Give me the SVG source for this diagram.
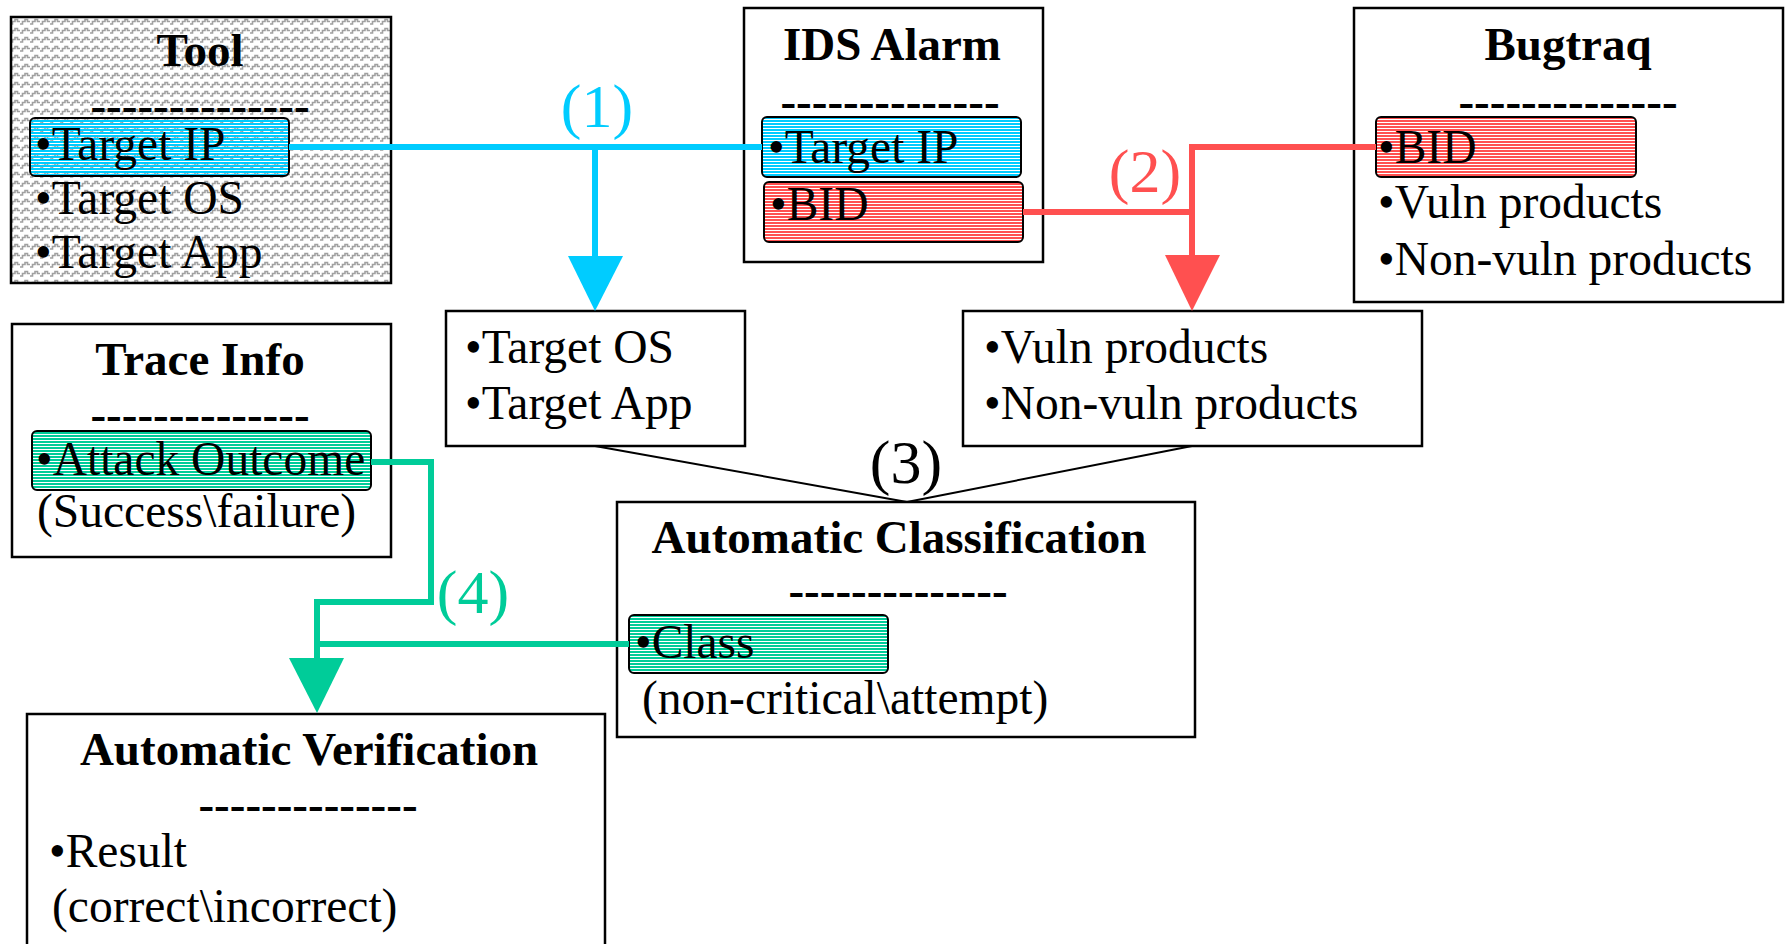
<svg xmlns="http://www.w3.org/2000/svg" width="1785" height="944" viewBox="0 0 1785 944">
<defs>
<pattern id="zig" patternUnits="userSpaceOnUse" width="10" height="9">
<rect width="10" height="9" fill="#ffffff"/>
<polyline points="0,6 2.5,6 2.5,3.5 5,3.5 5,1.5 7.5,1.5 7.5,3.5 10,3.5" fill="none" stroke="#a0a0a0" stroke-width="1.6"/>
</pattern>
<pattern id="stCyan" patternUnits="userSpaceOnUse" width="4" height="3">
<rect width="4" height="2" fill="#00CCFF"/>
</pattern>
<pattern id="stRed" patternUnits="userSpaceOnUse" width="4" height="3">
<rect width="4" height="2" fill="#FF5050"/>
</pattern>
<pattern id="stGreen" patternUnits="userSpaceOnUse" width="4" height="3">
<rect width="4" height="2" fill="#00CC99"/>
</pattern>
</defs>
<style>
.box{fill:#ffffff;stroke:#000;stroke-width:2.5}
.hl{stroke:#000;stroke-width:2}
.t{font-family:"Liberation Serif","Times New Roman",serif;font-size:47.5px;fill:#000}
.b{font-family:"Liberation Serif","Times New Roman",serif;font-size:47px;font-weight:bold;fill:#000;text-anchor:middle}
.lab{font-family:"Liberation Serif","Times New Roman",serif;font-size:62px;text-anchor:middle}
.cy{stroke:#00CCFF;stroke-width:6;fill:none}
.rd{stroke:#FF5050;stroke-width:6;fill:none}
.gr{stroke:#00CC99;stroke-width:6;fill:none}
.bk{stroke:#000;stroke-width:2;fill:none}
</style>
<rect width="1785" height="944" fill="#ffffff"/>

<g id="tool">
<rect x="11" y="17" width="380" height="266" fill="url(#zig)" stroke="#000" stroke-width="2.5"/>
<text class="b" x="200" y="66">Tool</text>
<text class="b" x="200" y="121">--------------</text>
<rect class="hl" x="30" y="118" width="259" height="58" rx="5" fill="url(#stCyan)"/>
<text class="t" x="35" y="160">•Target IP</text>
<text class="t" x="35" y="214">•Target OS</text>
<text class="t" x="35" y="268">•Target App</text>
</g>

<g id="ids-alarm">
<rect class="box" x="744" y="8" width="299" height="254"/>
<text class="b" x="892" y="60">IDS Alarm</text>
<text class="b" x="890" y="117">--------------</text>
<rect class="hl" x="762" y="117" width="259" height="60" rx="5" fill="url(#stCyan)"/>
<text class="t" x="768" y="163">•Target IP</text>
<rect class="hl" x="764" y="182" width="259" height="60" rx="5" fill="url(#stRed)"/>
<text class="t" x="770" y="220">•BID</text>
</g>

<g id="bugtraq">
<rect class="box" x="1354" y="8" width="429" height="294"/>
<text class="b" x="1568" y="60">Bugtraq</text>
<text class="b" x="1568" y="117">--------------</text>
<rect class="hl" x="1376" y="117" width="260" height="60" rx="5" fill="url(#stRed)"/>
<text class="t" x="1378" y="163">•BID</text>
<text class="t" x="1378" y="218">•Vuln products</text>
<text class="t" x="1378" y="275">•Non-vuln products</text>
</g>

<g id="target-info">
<rect class="box" x="446" y="311" width="299" height="135"/>
<text class="t" x="465" y="363">•Target OS</text>
<text class="t" x="465" y="419">•Target App</text>
</g>

<g id="vuln-info">
<rect class="box" x="963" y="311" width="459" height="135"/>
<text class="t" x="984" y="363">•Vuln products</text>
<text class="t" x="984" y="419">•Non-vuln products</text>
</g>

<g id="trace-info">
<rect class="box" x="12" y="324" width="379" height="233"/>
<text class="b" x="200" y="375">Trace Info</text>
<text class="b" x="200" y="430">--------------</text>
<rect class="hl" x="32" y="431" width="339" height="59" rx="5" fill="url(#stGreen)"/>
<text class="t" x="36" y="475">•Attack Outcome</text>
<text class="t" x="37" y="527">(Success\failure)</text>
</g>

<g id="auto-classification">
<rect class="box" x="617" y="502" width="578" height="235"/>
<text class="b" x="899" y="553">Automatic Classification</text>
<text class="b" x="898" y="606">--------------</text>
<rect class="hl" x="629" y="615" width="259" height="58" rx="5" fill="url(#stGreen)"/>
<text class="t" x="635" y="658">•Class</text>
<text class="t" x="642" y="714">(non-critical\attempt)</text>
</g>

<g id="auto-verification">
<rect class="box" x="27" y="714" width="578" height="240"/>
<text class="b" x="309" y="765">Automatic Verification</text>
<text class="b" x="308" y="820">--------------</text>
<text class="t" x="49" y="867">•Result</text>
<text class="t" x="52" y="922">(correct\incorrect)</text>
</g>

<g id="connectors">
<line class="cy" x1="289" y1="147" x2="762" y2="147"/>
<line class="cy" x1="595" y1="147" x2="595" y2="260"/>
<polygon points="568,256 623,256 595,311" fill="#00CCFF"/>
<text class="lab" x="597" y="127" fill="#00CCFF">(1)</text>

<polyline class="rd" points="1023,212 1192,212"/>
<polyline class="rd" points="1376,147 1192,147 1192,260"/>
<polygon points="1165,255 1220,255 1192,311" fill="#FF5050"/>
<text class="lab" x="1145" y="192" fill="#FF5050">(2)</text>

<line class="bk" x1="595" y1="446" x2="907" y2="502"/>
<line class="bk" x1="1192" y1="446" x2="907" y2="502"/>
<text class="lab" x="906" y="483" fill="#000">(3)</text>

<polyline class="gr" points="371,462 431,462 431,602 317,602 317,662"/>
<line class="gr" x1="629" y1="644" x2="317" y2="644"/>
<polygon points="289,658 344,658 317,713" fill="#00CC99"/>
<text class="lab" x="473" y="613" fill="#00CC99">(4)</text>
</g>
</svg>
